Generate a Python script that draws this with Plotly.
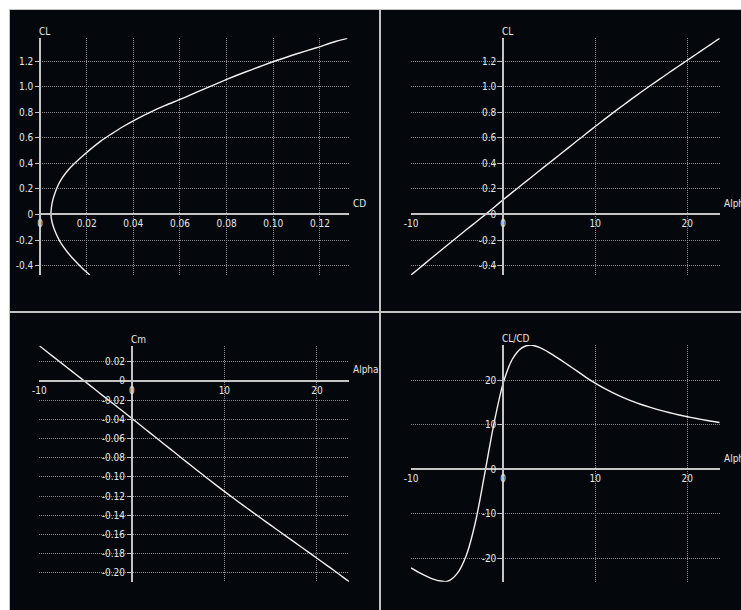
import plotly.graph_objects as go

# Airfoil polar, sampled in angle of attack (deg)
alpha = [-10, -9, -8, -7, -6, -5, -4, -3, -2, -1, 0, 1, 2, 3, 4, 5, 6, 7, 8, 9,
         10, 11, 12, 13, 14, 15, 16, 17, 18, 19, 20, 21, 22, 23, 23.5]
cl = [-0.474, -0.415, -0.355, -0.296, -0.237, -0.178, -0.120, -0.063, -0.005, 0.055,
      0.115, 0.173, 0.231, 0.288, 0.346, 0.403, 0.460, 0.518, 0.575, 0.632,
      0.689, 0.745, 0.800, 0.854, 0.907, 0.959, 1.010, 1.060, 1.110, 1.159,
      1.208, 1.257, 1.306, 1.355, 1.380]
cd = [0.0214, 0.0178, 0.0146, 0.0118, 0.0094, 0.0076, 0.0062, 0.0052, 0.0047, 0.0049,
      0.0055, 0.0065, 0.0078, 0.0096, 0.0120, 0.0150, 0.0184, 0.0221, 0.0260, 0.0307,
      0.0357, 0.0412, 0.0471, 0.0537, 0.0608, 0.0672, 0.0738, 0.0803, 0.0872, 0.0944,
      0.1017, 0.1098, 0.1185, 0.1267, 0.1317]
cm = [0.0368, 0.0292, 0.0216, 0.0141, 0.0065, -0.0011, -0.0087, -0.0163, -0.0238, -0.0314,
      -0.0390, -0.0467, -0.0544, -0.0621, -0.0698, -0.0775, -0.0852, -0.0928, -0.1004, -0.1079,
      -0.1152, -0.1224, -0.1295, -0.1365, -0.1435, -0.1504, -0.1573, -0.1642, -0.1711, -0.1780,
      -0.1849, -0.1918, -0.1988, -0.2059, -0.2094]
cl_cd = [-22.1, -23.3, -24.3, -25.0, -25.1, -23.4, -19.3, -11.8, -1.0, 10.2,
         19.3, 24.7, 27.2, 27.9, 27.3, 26.2, 24.9, 23.5, 22.1, 20.65,
         19.35, 18.15, 17.1, 16.15, 15.3, 14.55, 13.9, 13.3, 12.75, 12.25,
         11.8, 11.4, 11.02, 10.67, 10.5]

# Tick values and their printed labels
cd_ticks = [0, 0.02, 0.04, 0.06, 0.08, 0.10, 0.12]
cd_labels = ["0", "0.02", "0.04", "0.06", "0.08", "0.10", "0.12"]
cl_ticks = [-0.4, -0.2, 0, 0.2, 0.4, 0.6, 0.8, 1.0, 1.2]
cl_labels = ["-0.4", "-0.2", "0", "0.2", "0.4", "0.6", "0.8", "1.0", "1.2"]
alpha_ticks = [-10, 0, 10, 20]
alpha_labels = ["-10", "0", "10", "20"]
cm_ticks = [0.02, 0, -0.02, -0.04, -0.06, -0.08, -0.10, -0.12, -0.14, -0.16, -0.18, -0.20]
cm_labels = ["0.02", "0", "-0.02", "-0.04", "-0.06", "-0.08", "-0.10", "-0.12",
             "-0.14", "-0.16", "-0.18", "-0.20"]
ld_ticks = [-20, -10, 0, 10, 20]
ld_labels = ["-20", "-10", "0", "10", "20"]

W, H = 741, 610
BG = "#04070b"
FG = "#e6e6e6"
AXIS = "#c4c4c4"
GRID = "#8c8c8c"
FONT = "Tahoma, 'DejaVu Sans Condensed', 'Liberation Sans', sans-serif"


def px_x(v):
    return v / W


def px_y(v):
    return 1 - v / H


def zero_pos(dom, rng):
    return dom[0] + (0 - rng[0]) / (rng[1] - rng[0]) * (dom[1] - dom[0])


panels = [
    dict(x=cd, y=cl, xdom=[px_x(40), px_x(349.3)], ydom=[px_y(275), px_y(38.3)],
         xr=[0, 0.1326], yr=[-0.474, 1.38], xt=(cd_ticks, cd_labels), yt=(cl_ticks, cl_labels),
         xtitle="CD", ytitle="CL"),
    dict(x=alpha, y=cl, xdom=[px_x(411), px_x(720)], ydom=[px_y(275), px_y(38.3)],
         xr=[-10, 23.55], yr=[-0.474, 1.38], xt=(alpha_ticks, alpha_labels), yt=(cl_ticks, cl_labels),
         xtitle="Alpha", ytitle="CL"),
    dict(x=alpha, y=cm, xdom=[px_x(39.3), px_x(349.3)], ydom=[px_y(581.7), px_y(345.7)],
         xr=[-10, 23.5], yr=[-0.2094, 0.0368], xt=(alpha_ticks, alpha_labels), yt=(cm_ticks, cm_labels),
         xtitle="Alpha", ytitle="Cm"),
    dict(x=alpha, y=cl_cd, xdom=[px_x(411), px_x(720)], ydom=[px_y(581.7), px_y(345)],
         xr=[-10, 23.55], yr=[-25.2, 27.9], xt=(alpha_ticks, alpha_labels), yt=(ld_ticks, ld_labels),
         xtitle="Alpha", ytitle="CL/CD"),
]

fig = go.Figure()
layout = dict(
    width=W, height=H, margin=dict(l=0, r=0, t=0, b=0, pad=0, autoexpand=False),
    paper_bgcolor="white", plot_bgcolor=BG, showlegend=False,
    font=dict(family=FONT, size=10, color=FG),
)

# Window frame: light separators between four dark panes
shapes = [dict(type="rect", xref="paper", yref="paper", layer="below",
               x0=px_x(9), x1=1, y0=0, y1=px_y(9),
               fillcolor="#c2c2c2", line=dict(width=0))]
for (x0, x1, y0, y1) in [(10, 379, 10, 311), (381, 741, 10, 311),
                         (10, 379, 313, 610), (381, 741, 313, 610)]:
    shapes.append(dict(type="rect", xref="paper", yref="paper", layer="below",
                       x0=px_x(x0), x1=px_x(x1), y0=px_y(y1), y1=px_y(y0),
                       fillcolor=BG, line=dict(width=0)))

annotations = []
for i, p in enumerate(panels, start=1):
    sx = "" if i == 1 else str(i)
    fig.add_trace(go.Scatter(
        x=p["x"], y=p["y"], mode="lines", xaxis="x" + sx, yaxis="y" + sx,
        line=dict(color="#f0f0f0", width=1.4, shape="spline", smoothing=0.8),
        hoverinfo="skip"))
    layout["xaxis" + sx] = dict(
        domain=p["xdom"], range=p["xr"], anchor="free",
        position=zero_pos(p["ydom"], p["yr"]), automargin=False,
        showline=True, linecolor=AXIS, linewidth=1.5, zeroline=False,
        showgrid=True, gridcolor=GRID, gridwidth=1, griddash="1px,1px",
        tickmode="array", tickvals=p["xt"][0], ticktext=p["xt"][1],
        ticks="", tickfont=dict(family=FONT, size=10, color=FG),
    )
    layout["yaxis" + sx] = dict(
        domain=p["ydom"], range=p["yr"], anchor="free",
        position=zero_pos(p["xdom"], p["xr"]), automargin=False,
        showline=True, linecolor=AXIS, linewidth=1.5, zeroline=False,
        showgrid=True, gridcolor=GRID, gridwidth=1, griddash="1px,1px",
        tickmode="array", tickvals=p["yt"][0], ticktext=p["yt"][1],
        ticks="outside", ticklen=4, tickcolor=AXIS, tickwidth=1,
        tickfont=dict(family=FONT, size=10, color=FG),
    )
    annotations.append(dict(
        text=p["ytitle"], xref="x" + sx, yref="y" + sx + " domain", x=0, y=1,
        xanchor="left", yanchor="bottom", xshift=-3, yshift=-1, showarrow=False,
        font=dict(family=FONT, size=10, color=FG)))
    annotations.append(dict(
        text=p["xtitle"], xref="x" + sx + " domain", yref="y" + sx, x=1, y=0,
        xanchor="left", yanchor="middle", xshift=2, yshift=11, showarrow=False,
        font=dict(family=FONT, size=10, color=FG)))

layout["shapes"] = shapes
layout["annotations"] = annotations
fig.update_layout(**layout)
fig.write_html("out.html")
